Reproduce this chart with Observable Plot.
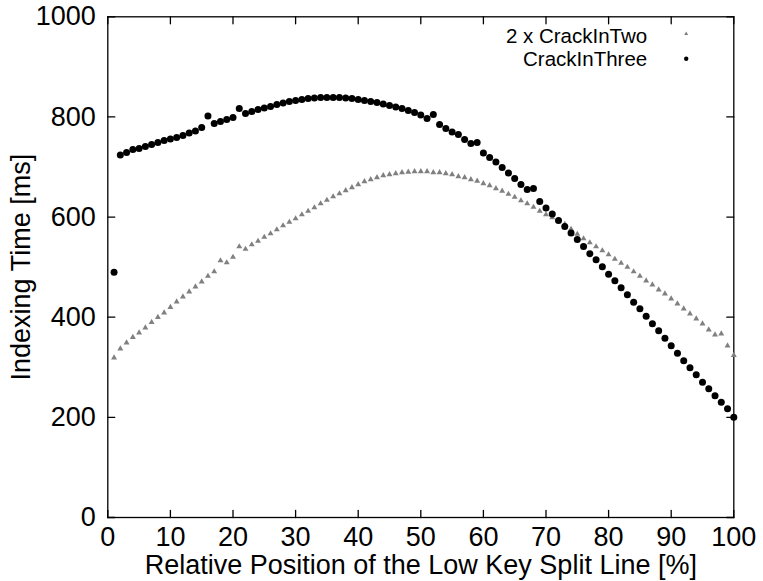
<!DOCTYPE html>
<html>
<head>
<meta charset="utf-8">
<script src="https://cdn.jsdelivr.net/npm/d3@7"></script>
<script src="https://cdn.jsdelivr.net/npm/@observablehq/plot@0.6"></script>
<style>
  html, body { margin: 0; padding: 0; background: #fff; }
</style>
</head>
<body>
<div id="chart"></div>
<script>
// ---- data ----
const splitPositions = [1,2,3,4,5,6,7,8,9,10,11,12,13,14,15,16,17,18,19,20,
  21,22,23,24,25,26,27,28,29,30,31,32,33,34,35,36,37,38,39,40,
  41,42,43,44,45,46,47,48,49,50,51,52,53,54,55,56,57,58,59,60,
  61,62,63,64,65,66,67,68,69,70,71,72,73,74,75,76,77,78,79,80,
  81,82,83,84,85,86,87,88,89,90,91,92,93,94,95,96,97,98,99,100];

const crackInTwoX2 = [319,337,349,360,369,379,390,400,409,420,
  431,441,451,461,471,482,491,513,509,520,
  541,536,545,552,560,567,575,583,590,597,
  605,612,619,627,634,641,647,653,659,665,
  671,675,679,683,685,687,689,690,691,691,
  691,689,689,687,685,681,679,675,672,667,
  663,657,652,646,640,633,627,620,612,605,
  599,594,586,576,566,557,549,541,533,525,
  516,508,500,491,482,473,465,455,447,437,
  427,417,407,397,387,375,365,367,343,324];

const crackInThree = [490,724,729,735,737,741,745,749,753,756,
  759,763,768,772,779,802,787,791,795,799,
  817,807,811,815,818,821,825,828,831,833,
  835,837,838,839,839,839,839,838,837,835,
  833,831,829,826,823,820,817,813,809,804,
  797,805,785,777,770,765,755,747,749,728,
  719,710,699,688,677,665,655,657,631,618,
  606,593,581,568,555,541,527,515,501,486,
  473,459,445,430,417,402,387,373,358,343,
  328,313,299,285,270,257,243,230,217,200];

const seriesNames = ["2 x CrackInTwo", "CrackInThree"];
const xTicks = [0,10,20,30,40,50,60,70,80,90,100];
const yTicks = [0,200,400,600,800,1000];
const xTitle = "Relative Position of the Low Key Split Line [%]";
const yTitle = "Indexing Time [ms]";

// ---- drawing ----
const tickShape = { draw(context, l) { context.moveTo(0, 0); context.lineTo(0, -l); } };
const ink = "#000";
const grey = "#808080";
const lw = 1.3;
const tickLen = 7;

const chart = Plot.plot({
  width: 763,
  height: 581,
  marginLeft: 107.3,
  marginRight: 29.7,
  marginTop: 16.3,
  marginBottom: 64,
  style: { fontFamily: "'Liberation Sans', Arial, Helvetica, sans-serif", fontSize: "27px", color: ink, background: "#fff" },
  x: { domain: [0, 100], axis: null },
  y: { domain: [0, 1000], axis: null },
  marks: [
    // tick labels
    Plot.axisX(xTicks, { anchor: "bottom", tickSize: 0, tickPadding: 9, fontSize: 27, label: null, tickFormat: d => String(d) }),
    Plot.axisY(yTicks, { anchor: "left", tickSize: 0, tickPadding: 12, fontSize: 27, label: null, tickFormat: d => String(d) }),
    // inward ticks, mirrored on all four sides
    Plot.vector(xTicks, { x: d => d, frameAnchor: "bottom", rotate: 0, length: tickLen, anchor: "start", shape: tickShape, stroke: ink, strokeWidth: lw }),
    Plot.vector(xTicks, { x: d => d, frameAnchor: "top", rotate: 180, length: tickLen, anchor: "start", shape: tickShape, stroke: ink, strokeWidth: lw }),
    Plot.vector(yTicks, { y: d => d, frameAnchor: "left", rotate: 90, length: tickLen, anchor: "start", shape: tickShape, stroke: ink, strokeWidth: lw }),
    Plot.vector(yTicks, { y: d => d, frameAnchor: "right", rotate: -90, length: tickLen, anchor: "start", shape: tickShape, stroke: ink, strokeWidth: lw }),
    Plot.frame({ stroke: ink, strokeWidth: lw }),
    // axis titles
    Plot.text([xTitle], { text: d => d, frameAnchor: "bottom", dy: 47.7, lineAnchor: "middle", textAnchor: "middle", fontSize: 27, fill: ink }),
    Plot.text([yTitle], { text: d => d, frameAnchor: "left", dx: -86.6, rotate: -90, lineAnchor: "middle", textAnchor: "middle", fontSize: 27, fill: ink }),
    // data
    Plot.dot(splitPositions, { x: d => d, y: (d, i) => crackInTwoX2[i], symbol: "triangle", r: 2.2, fill: grey, stroke: "none" }),
    Plot.dot(splitPositions, { x: d => d, y: (d, i) => crackInThree[i], symbol: "circle", r: 3.5, fill: ink, stroke: "none" }),
    // key
    Plot.text([seriesNames[0]], { text: d => d, frameAnchor: "top-right", dx: -86.6, dy: 19.2, textAnchor: "end", lineAnchor: "middle", fontSize: 20.5, fill: ink }),
    Plot.text([seriesNames[1]], { text: d => d, frameAnchor: "top-right", dx: -86.6, dy: 42.4, textAnchor: "end", lineAnchor: "middle", fontSize: 20.5, fill: ink }),
    Plot.dot([seriesNames[0]], { frameAnchor: "top-right", dx: -47.6, dy: 17, symbol: "triangle", r: 1.5, fill: grey, stroke: "none" }),
    Plot.dot([seriesNames[1]], { frameAnchor: "top-right", dx: -47.6, dy: 42, symbol: "circle", r: 2.2, fill: ink, stroke: "none" })
  ]
});
document.getElementById("chart").appendChild(chart);
</script>
</body>
</html>
